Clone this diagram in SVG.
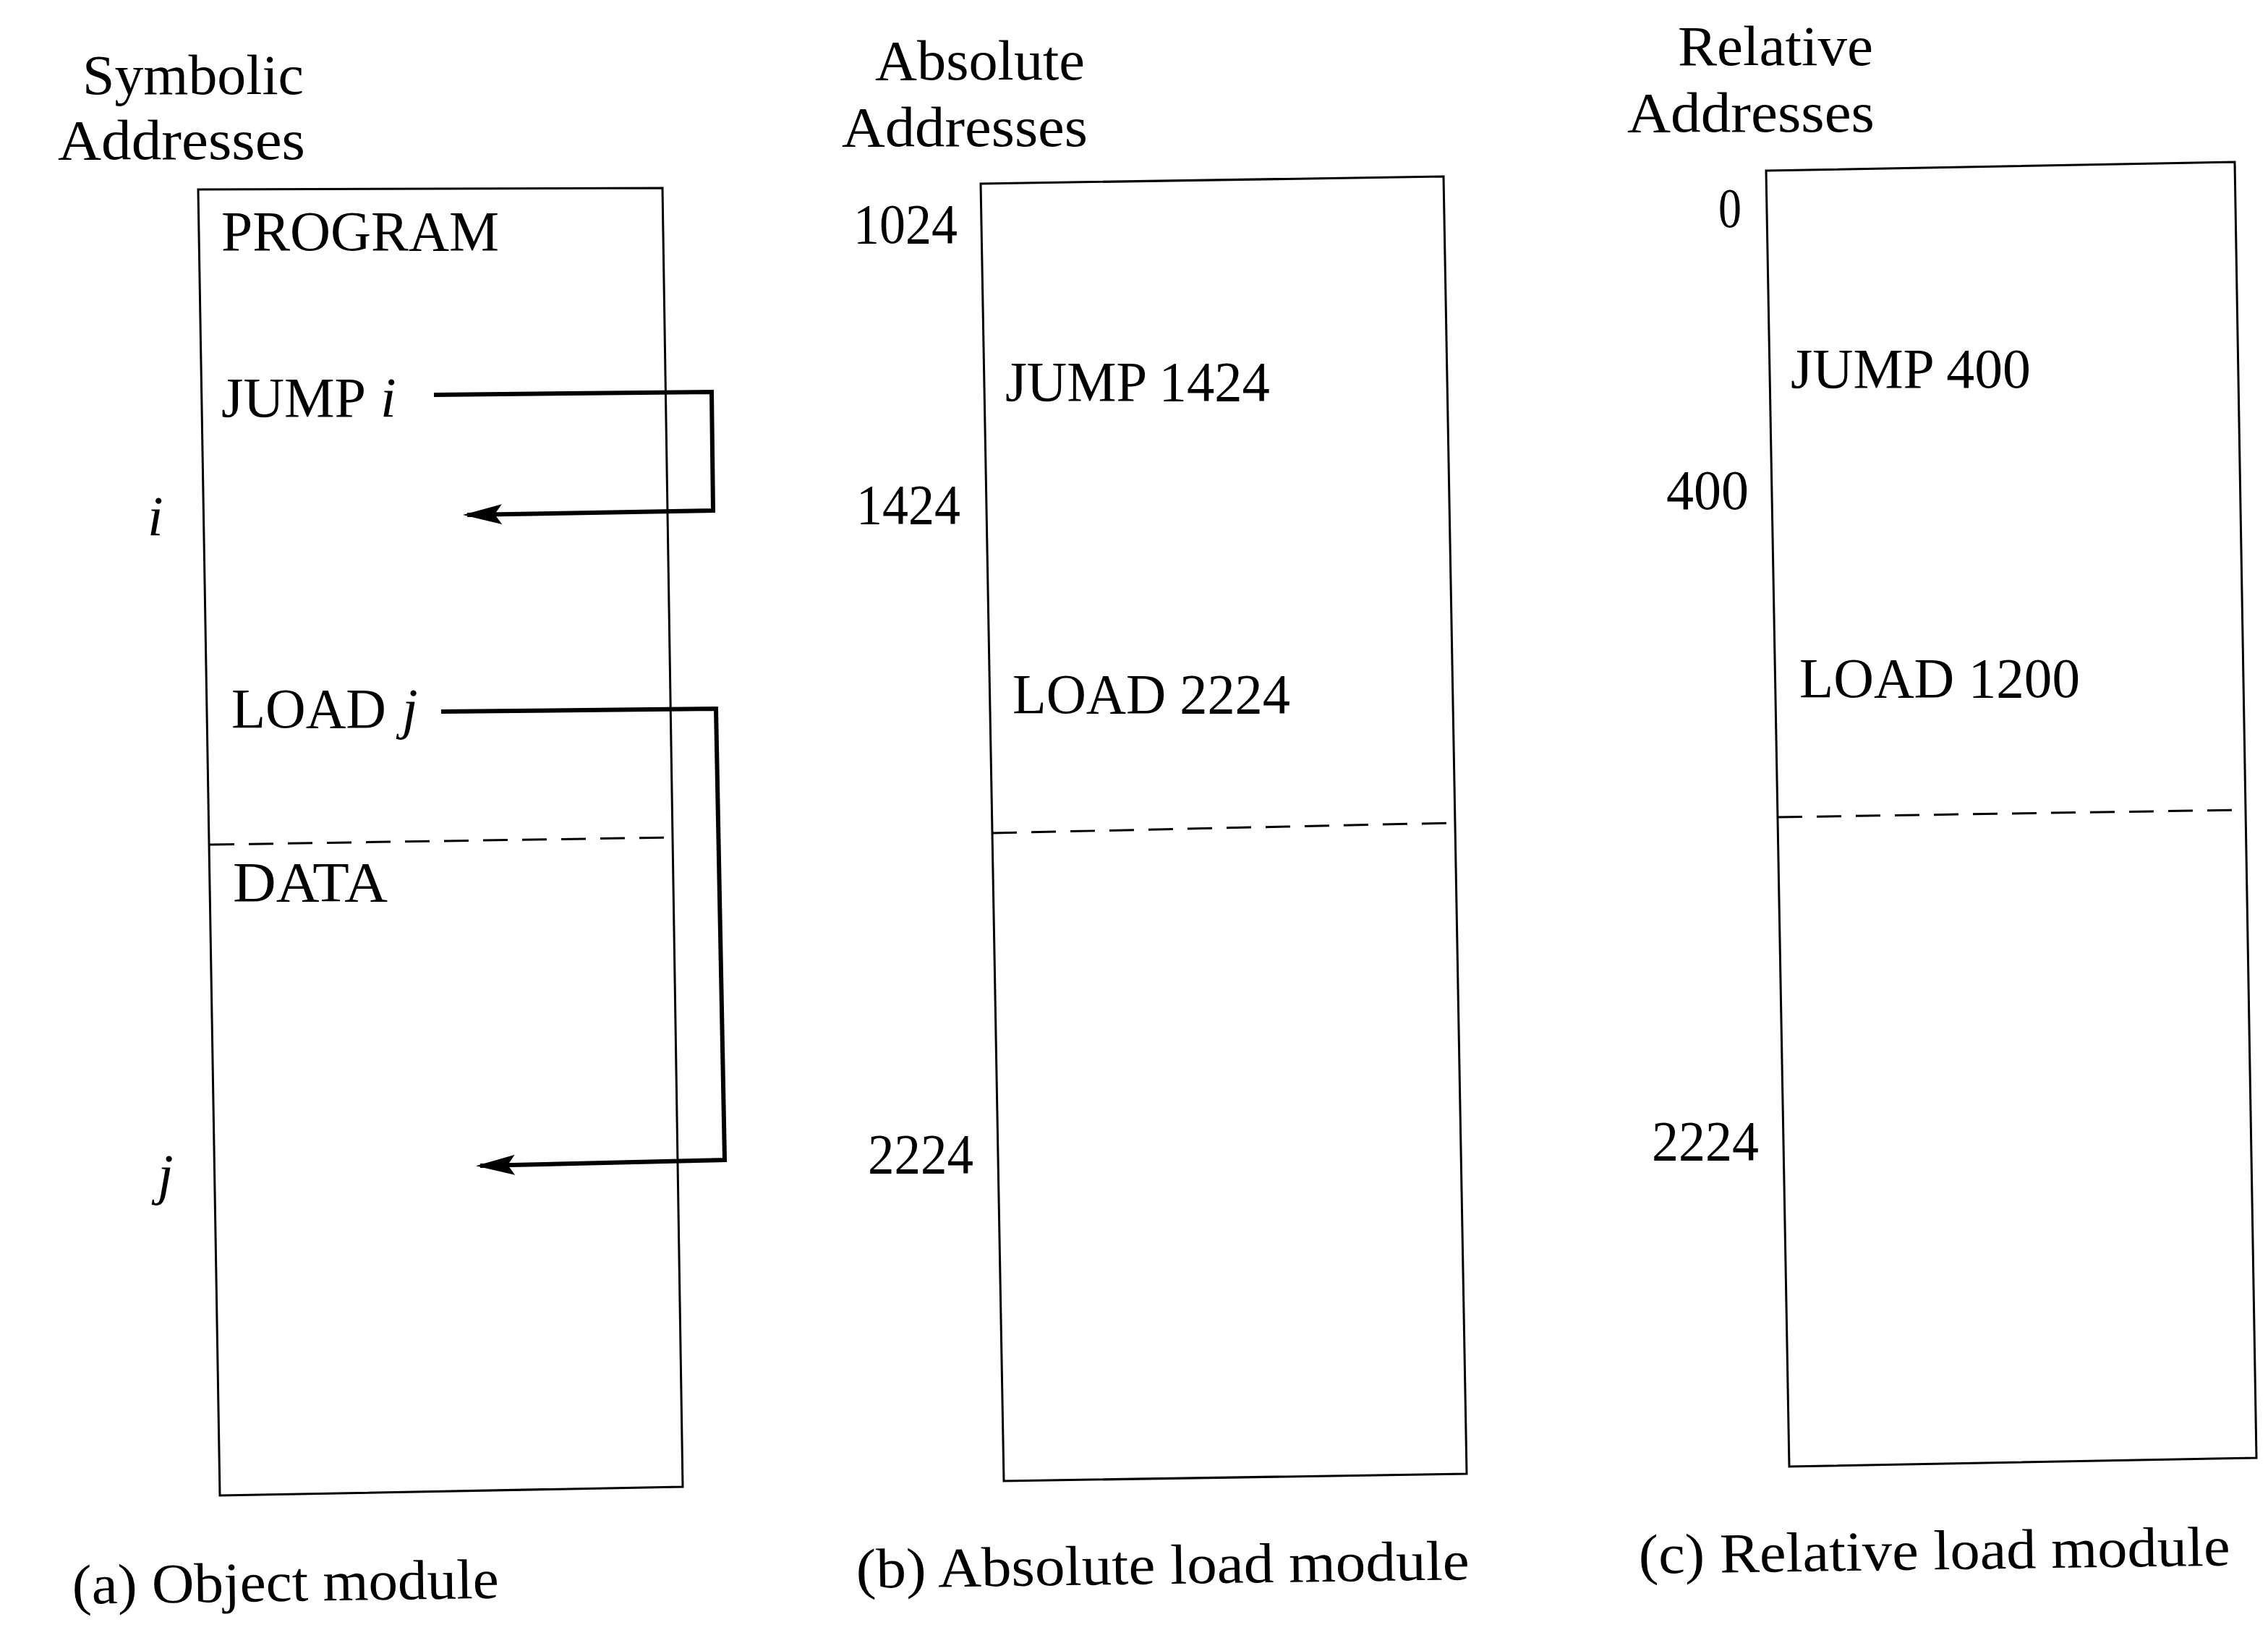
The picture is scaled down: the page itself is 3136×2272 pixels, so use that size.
<svg xmlns="http://www.w3.org/2000/svg" width="3136" height="2272" viewBox="0 0 3136 2272">
<style>
  text { font-family: "Liberation Serif", "DejaVu Serif", serif; font-size: 78px; fill: #000; }
  .it { font-style: italic; }
  .box { fill: none; stroke: #000; stroke-width: 3; stroke-linejoin: miter; }
  .dash { fill: none; stroke: #000; stroke-width: 3; stroke-dasharray: 34 20; }
  .conn { fill: none; stroke: #000; stroke-width: 6; stroke-linejoin: miter; }
</style>
<defs>
  <marker id="ah" markerUnits="userSpaceOnUse" viewBox="0 0 54 28" refX="48" refY="14" markerWidth="54" markerHeight="28" orient="auto">
    <path d="M0,0 L54,14 L0,28 L10,14 z" fill="#000"/>
  </marker>
</defs>
<rect width="3136" height="2272" fill="#fff"/>

<g id="headers">
  <text x="114" y="130" textLength="306" lengthAdjust="spacingAndGlyphs">Symbolic</text>
  <text x="80" y="220" textLength="342" lengthAdjust="spacingAndGlyphs">Addresses</text>
  <text x="1210" y="110" textLength="290" lengthAdjust="spacingAndGlyphs">Absolute</text>
  <text x="1164" y="202" textLength="340" lengthAdjust="spacingAndGlyphs">Addresses</text>
  <text x="2320" y="90" textLength="270" lengthAdjust="spacingAndGlyphs">Relative</text>
  <text x="2250" y="182" textLength="342" lengthAdjust="spacingAndGlyphs">Addresses</text>
</g>

<g id="module-a">
  <polygon class="box" points="274,262 916,260 944,2056 304,2068"/>
  <line class="dash" x1="290" y1="1168" x2="930" y2="1158"/>
  <text x="306" y="346" textLength="384" lengthAdjust="spacingAndGlyphs">PROGRAM</text>
  <text x="306" y="576"><tspan textLength="200" lengthAdjust="spacingAndGlyphs">JUMP</tspan><tspan class="it" x="526">i</tspan></text>
  <text x="320" y="1006"><tspan textLength="214" lengthAdjust="spacingAndGlyphs">LOAD</tspan><tspan class="it" x="556">j</tspan></text>
  <text x="322" y="1246" textLength="214" lengthAdjust="spacingAndGlyphs">DATA</text>
  <text class="it" x="204" y="740">i</text>
  <text class="it" x="218" y="1650">j</text>
</g>

<g id="module-b">
  <polygon class="box" points="1356,254 1996,244 2028,2038 1388,2048"/>
  <line class="dash" x1="1372" y1="1152" x2="2008" y2="1138"/>
  <text x="1180" y="336" textLength="144" lengthAdjust="spacingAndGlyphs">1024</text>
  <text x="1390" y="554" textLength="366" lengthAdjust="spacingAndGlyphs">JUMP 1424</text>
  <text x="1184" y="724" textLength="144" lengthAdjust="spacingAndGlyphs">1424</text>
  <text x="1400" y="986" textLength="384" lengthAdjust="spacingAndGlyphs">LOAD 2224</text>
  <text x="1200" y="1622" textLength="146" lengthAdjust="spacingAndGlyphs">2224</text>
</g>

<g id="module-c">
  <polygon class="box" points="2442,236 3090,224 3120,2016 2474,2028"/>
  <line class="dash" x1="2458" y1="1130" x2="3100" y2="1120"/>
  <text x="2376" y="314" textLength="32" lengthAdjust="spacingAndGlyphs">0</text>
  <text x="2476" y="536" textLength="332" lengthAdjust="spacingAndGlyphs">JUMP 400</text>
  <text x="2304" y="704" textLength="114" lengthAdjust="spacingAndGlyphs">400</text>
  <text x="2488" y="964" textLength="388" lengthAdjust="spacingAndGlyphs">LOAD 1200</text>
  <text x="2284" y="1604" textLength="148" lengthAdjust="spacingAndGlyphs">2224</text>
</g>

<g id="connectors">
  <path class="conn" d="M600,546 L984,542 L986,706 L646,712" marker-end="url(#ah)"/>
  <path class="conn" d="M610,984 L990,980 L1002,1604 L664,1612" marker-end="url(#ah)"/>
</g>

<g id="captions">
  <text x="100" y="2218" textLength="590" lengthAdjust="spacingAndGlyphs" transform="rotate(-0.8 100 2218)">(a) Object module</text>
  <text x="1184" y="2196" textLength="848" lengthAdjust="spacingAndGlyphs" transform="rotate(-0.8 1184 2196)">(b) Absolute load module</text>
  <text x="2266" y="2176" textLength="818" lengthAdjust="spacingAndGlyphs" transform="rotate(-0.8 2266 2176)">(c) Relative load module</text>
</g>
</svg>
